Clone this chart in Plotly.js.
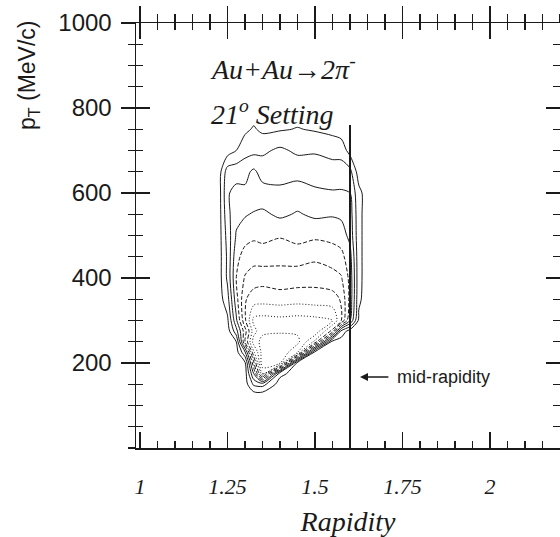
<!DOCTYPE html>
<html>
<head>
<meta charset="utf-8">
<script src="https://cdn.plot.ly/plotly-3.0.1.min.js"></script>
<style>
  html, body { margin: 0; padding: 0; background: #ffffff; overflow: hidden; }
  #chart { width: 560px; height: 537px; }
</style>
</head>
<body>
<div id="chart"></div>
<script>
// ---- data ----
const rapidity = [1.20, 1.225, 1.25, 1.275, 1.30, 1.325, 1.35, 1.40, 1.45, 1.50, 1.55, 1.575, 1.60, 1.625, 1.65];
const pT = [100, 125, 150, 175, 200, 225, 250, 275, 300, 350, 400, 450, 500, 550, 600, 650, 700, 750, 800];
// yield (arbitrary units), one row per pT value
const density = [
  [0, 0, 0,   0,   0,   0,   0,    0,    0,   0,   0,   0,   0,   0,   0],
  [0, 0, 0,   0,   0,   0,   0,    0,    0,   0,   0,   0,   0,   0,   0],
  [0, 0, 0,   0,   0,   1.7, 1.9,  0,    0,   0,   0,   0,   0,   0,   0],
  [0, 0, 0,   0,   0,   3.5, 8.5,  0.8,  0,   0,   0,   0,   0,   0,   0],
  [0, 0, 0,   0,   0.3, 5.3, 10.3, 9.6,  0,   0,   0,   0,   0,   0,   0],
  [0, 0, 0,   0,   2.3, 7.3, 10.0, 10.4, 8.5, 0,   0,   0,   0,   0,   0],
  [0, 0, 0,   0.5, 5.5, 9.0, 9.8,  9.9,  9.8, 7.2, 0,   0,   0,   0,   0],
  [0, 0, 0,   2.1, 5.1, 8.1, 9.3,  9.4,  9.3, 9.3, 6.1, 1.2, 0,   0,   0],
  [0, 0, 0.3, 3.3, 6.3, 8.8, 8.9,  8.8,  8.9, 8.8, 8.5, 6.5, 3.5, 0.3, 0],
  [0, 0, 1.1, 4.1, 6.4, 7.0, 7.1,  7.0,  7.1, 7.0, 6.9, 6.4, 4.2, 0.7, 0],
  [0, 0, 1.7, 4.5, 5.6, 6.0, 6.1,  5.9,  6.0, 6.1, 5.9, 5.6, 4.2, 0.8, 0],
  [0, 0, 1.7, 4.2, 4.9, 5.1, 5.0,  5.2,  5.1, 5.3, 5.0, 4.8, 3.9, 0.8, 0],
  [0, 0, 1.9, 3.6, 4.1, 4.3, 4.2,  4.4,  4.1, 4.3, 4.2, 4.0, 3.2, 0.8, 0],
  [0, 0, 2.2, 3.2, 3.4, 3.6, 3.7,  3.3,  3.6, 3.3, 3.4, 3.3, 3.0, 0.8, 0],
  [0, 0, 2.4, 2.8, 2.7, 2.8, 2.9,  2.8,  2.9, 2.7, 2.6, 2.6, 2.5, 0.8, 0],
  [0, 0, 2.0, 2.1, 2.2, 2.7, 2.1,  2.0,  2.2, 2.0, 1.9, 2.0, 1.8, 0,   0],
  [0, 0, 0,   0.5, 1.1, 1.2, 1.3,  1.7,  1.3, 1.4, 1.2, 1.1, 0.1, 0,   0],
  [0, 0, 0,   0,   0.3, 0.6, 0.3,  0.4,  0.55,0.4, 0.2, 0,   0,   0,   0],
  [0, 0, 0,   0,   0,   0,   0,    0,    0,   0,   0,   0,   0,   0,   0]
];
const midRapidity = 1.6;
const midRapidityPtSpan = [0, 760];
const xTickVals = [1, 1.25, 1.5, 1.75, 2];
const xTickText = ['1', '1.25', '1.5', '1.75', '2'];
const yTickVals = [200, 400, 600, 800, 1000];
const yTickText = ['200', '400', '600', '800', '1000'];

// ---- drawing ----
const ink = '#1a1a1a';
const blackScale = [[0, ink], [1, ink]];
function contourBand(start, end, dash) {
  return {
    type: 'contour', x: rapidity, y: pT, z: density,
    autocontour: false,
    contours: { start: start, end: end, size: 1, coloring: 'lines', showlabels: false },
    colorscale: blackScale, showscale: false,
    line: { width: 1, dash: dash, smoothing: 0.8 },
    hoverinfo: 'skip'
  };
}

const traces = [
  contourBand(0.5, 3.5, 'solid'),
  contourBand(4.5, 6.5, '4px,2px'),
  contourBand(7.5, 10.5, '1px,2px'),
  {
    type: 'scatter', mode: 'lines',
    x: midRapidityPtSpan.map(() => midRapidity), y: midRapidityPtSpan,
    line: { color: ink, width: 2 }, showlegend: false, hoverinfo: 'skip'
  },
  { type: 'scatter', x: [], y: [], xaxis: 'x2', yaxis: 'y2', showlegend: false, hoverinfo: 'skip' }
];

const serif = 'Liberation Serif, Times New Roman, serif';
const sans = 'Liberation Sans, Arial, Helvetica, sans-serif';

const layout = {
  width: 560, height: 537,
  margin: { l: 136, r: 0, t: 23, b: 89, pad: 0 },
  paper_bgcolor: '#ffffff', plot_bgcolor: '#ffffff',
  showlegend: false,
  xaxis: {
    range: [0.98857, 2.2], showgrid: false, zeroline: false,
    showline: true, linecolor: ink, linewidth: 1.5, mirror: 'ticks',
    ticks: 'inside', ticklen: 16, tickwidth: 1.3, tickcolor: ink,
    tickvals: xTickVals, ticktext: xTickText.map(t => '<i>' + t + '</i>'),
    tickfont: { family: serif, size: 22, color: ink },
    ticklabelstandoff: 18,
    minor: { dtick: 0.05, tick0: 1, ticks: 'inside', ticklen: 7, tickwidth: 1.2, tickcolor: ink, showgrid: false },
    title: { text: '<i>Rapidity</i>', font: { family: serif, size: 28, color: ink }, standoff: 14 },
    automargin: false
  },
  xaxis2: {
    overlaying: 'x', side: 'top', matches: 'x', anchor: 'y',
    showgrid: false, zeroline: false, showline: false, showticklabels: false,
    ticks: 'outside', ticklen: 16, tickwidth: 1.3, tickcolor: ink,
    tickvals: xTickVals,
    minor: { dtick: 0.05, tick0: 1, ticks: 'outside', ticklen: 8, tickwidth: 1.2, tickcolor: ink, showgrid: false }
  },
  yaxis: {
    range: [0, 1000], showgrid: false, zeroline: false,
    showline: true, linecolor: ink, linewidth: 1.5, mirror: 'ticks',
    ticks: 'inside', ticklen: 14, tickwidth: 1.3, tickcolor: ink,
    tickvals: yTickVals, ticktext: yTickText,
    tickfont: { family: sans, size: 24, color: ink },
    ticklabelstandoff: 18,
    minor: { dtick: 50, tick0: 0, ticks: 'inside', ticklen: 7, tickwidth: 1.2, tickcolor: ink, showgrid: false },
    automargin: false
  },
  yaxis2: {
    overlaying: 'y', side: 'left', matches: 'y', anchor: 'x',
    showgrid: false, zeroline: false, showline: false, showticklabels: false,
    ticks: 'outside', ticklen: 14, tickwidth: 1.3, tickcolor: ink,
    tickvals: yTickVals,
    minor: { dtick: 50, tick0: 0, ticks: 'outside', ticklen: 7, tickwidth: 1.2, tickcolor: ink, showgrid: false }
  },
  annotations: [
    {
      text: '<i>Au+Au\u21922\u03C0<sup>-</sup></i>', x: 1.194, y: 896, xref: 'x', yref: 'y',
      xanchor: 'left', yanchor: 'middle', showarrow: false,
      font: { family: serif, size: 28, color: ink }
    },
    {
      text: '<i>21<sup>o</sup> Setting</i>', x: 1.197, y: 790, xref: 'x', yref: 'y',
      xanchor: 'left', yanchor: 'middle', showarrow: false,
      font: { family: serif, size: 28, color: ink }
    },
    {
      text: '', x: 1.6286, y: 167, xref: 'x', yref: 'y',
      ax: 1.714, ay: 167, axref: 'x', ayref: 'y',
      showarrow: true, arrowhead: 2, arrowsize: 1, arrowwidth: 1.6, arrowcolor: ink
    },
    {
      text: 'mid-rapidity', x: 1.7286, y: 167, xref: 'x', yref: 'y',
      xanchor: 'left', yanchor: 'middle', showarrow: false,
      font: { family: sans, size: 18, color: ink }
    },
    {
      text: 'p<sub>T</sub> (MeV/c)', textangle: -90,
      x: -0.2547, y: 0.8776, xref: 'paper', yref: 'paper',
      xanchor: 'center', yanchor: 'middle', showarrow: false,
      font: { family: sans, size: 23, color: ink }
    }
  ]
};

Plotly.newPlot('chart', traces, layout, { staticPlot: true, displayModeBar: false });
</script>
</body>
</html>
